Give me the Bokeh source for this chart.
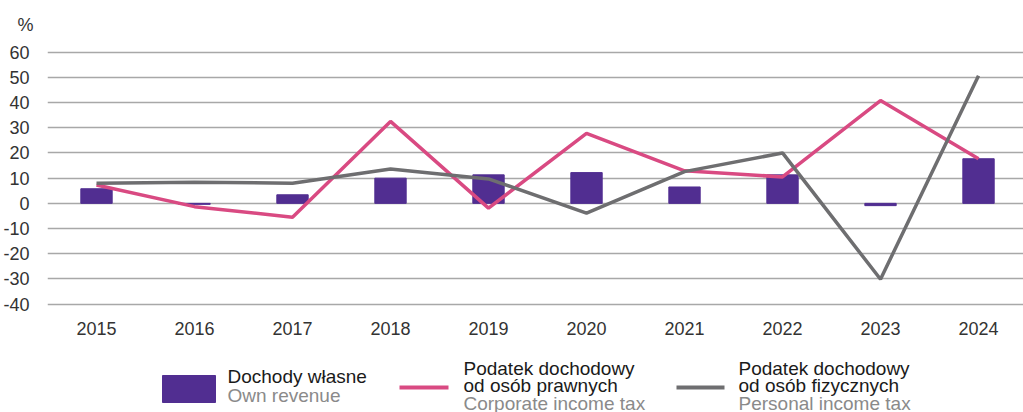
from bokeh.plotting import figure
from bokeh.models import Range1d, FixedTicker
from bokeh.layouts import column
from bokeh.core.properties import value
from bokeh.embed import file_html
from bokeh.resources import INLINE

years = ["2015", "2016", "2017", "2018", "2019", "2020", "2021", "2022", "2023", "2024"]
own_revenue = [5.8, -0.4, 3.4, 10.0, 11.3, 12.2, 6.5, 11.3, -0.9, 17.7]
corporate_tax = [7.3, -1.3, -5.5, 32.5, -1.9, 27.8, 12.9, 10.5, 40.8, 17.7]
personal_tax = [8.0, 8.4, 8.0, 13.6, 9.7, -3.9, 12.6, 20.0, -30.1, 50.6]
y_ticks = [-40, -30, -20, -10, 0, 10, 20, 30, 40, 50, 60]

series_names = ["Dochody własne", "Podatek dochodowy\nod osób prawnych", "Podatek dochodowy\nod osób fizycznych"]
series_sub = ["Own revenue", "Corporate income tax", "Personal income tax"]

PURPLE = "#512e91"
PINK = "#d94a82"
GRAY = "#6e6e70"
FONT = "Liberation Sans"

xs = list(range(len(years)))

p = figure(x_range=Range1d(-0.5, 9.459), y_range=Range1d(-42.5, 65),
           width=1023, height=350, output_backend="svg", toolbar_location=None,
           min_border_left=47, min_border_right=0, min_border_top=39, min_border_bottom=40)

p.title.text = "%"
p.title.text_font = FONT
p.title.text_font_size = "18px"
p.title.text_font_style = "normal"
p.title.text_color = "#333333"
p.title.offset = -30

p.vbar(x=xs, top=own_revenue, bottom=0, width=0.32, color=PURPLE)
p.line(x=xs, y=corporate_tax, line_width=3.5, color=PINK)
p.line(x=xs, y=personal_tax, line_width=3.5, color=GRAY)

p.yaxis.ticker = FixedTicker(ticks=y_ticks)
p.yaxis.major_label_overrides = {t: str(t) for t in y_ticks}
p.xaxis.ticker = FixedTicker(ticks=xs)
p.xaxis.major_label_overrides = {i: years[i] for i in xs}
p.ygrid.ticker = FixedTicker(ticks=y_ticks)
p.ygrid.grid_line_color = "#a8a8a8"
p.ygrid.grid_line_width = 1.5
p.xgrid.grid_line_color = None
p.outline_line_color = None
for ax in (p.xaxis, p.yaxis):
    ax.axis_line_color = None
    ax.major_tick_line_color = None
    ax.minor_tick_line_color = None
    ax.major_label_text_font = FONT
    ax.major_label_text_font_size = "18px"
    ax.major_label_text_color = "#333333"
p.yaxis.major_label_standoff = 12
p.xaxis.major_label_standoff = 5

# legend figure (pixel coordinates, frame starts at x=47 like the chart)
lf = figure(width=1023, height=62, x_range=Range1d(47, 1023), y_range=Range1d(62, 0),
            x_axis_type=None, y_axis_type=None, output_backend="svg", toolbar_location=None,
            min_border_left=47, min_border_right=0, min_border_top=0, min_border_bottom=0)
lf.grid.visible = False
lf.outline_line_color = None

lf.quad(left=[162], right=[215], top=[25], bottom=[52], color=PURPLE)
lf.line(x=[399, 448], y=[37, 37], line_width=4, color=PINK)
lf.line(x=[676, 724], y=[37, 37], line_width=4, color=GRAY)

text_x = [227, 463, 738]
main_baselines = [[26], [18, 35], [18, 35]]
sub_baseline = [45, 53, 53]
for i in range(3):
    parts = series_names[i].split("\n")
    lf.text(x=[text_x[i]] * len(parts), y=main_baselines[i], text=parts,
            text_font=value(FONT), text_font_size="19px", text_baseline="alphabetic",
            text_color="#1a1a1a")
    lf.text(x=[text_x[i]], y=[sub_baseline[i]], text=[series_sub[i]],
            text_font=value(FONT), text_font_size="19px", text_baseline="alphabetic",
            text_color="#8a8a8a")

layout = column(p, lf, spacing=0)
open("out.html", "w").write(file_html(layout, INLINE))
